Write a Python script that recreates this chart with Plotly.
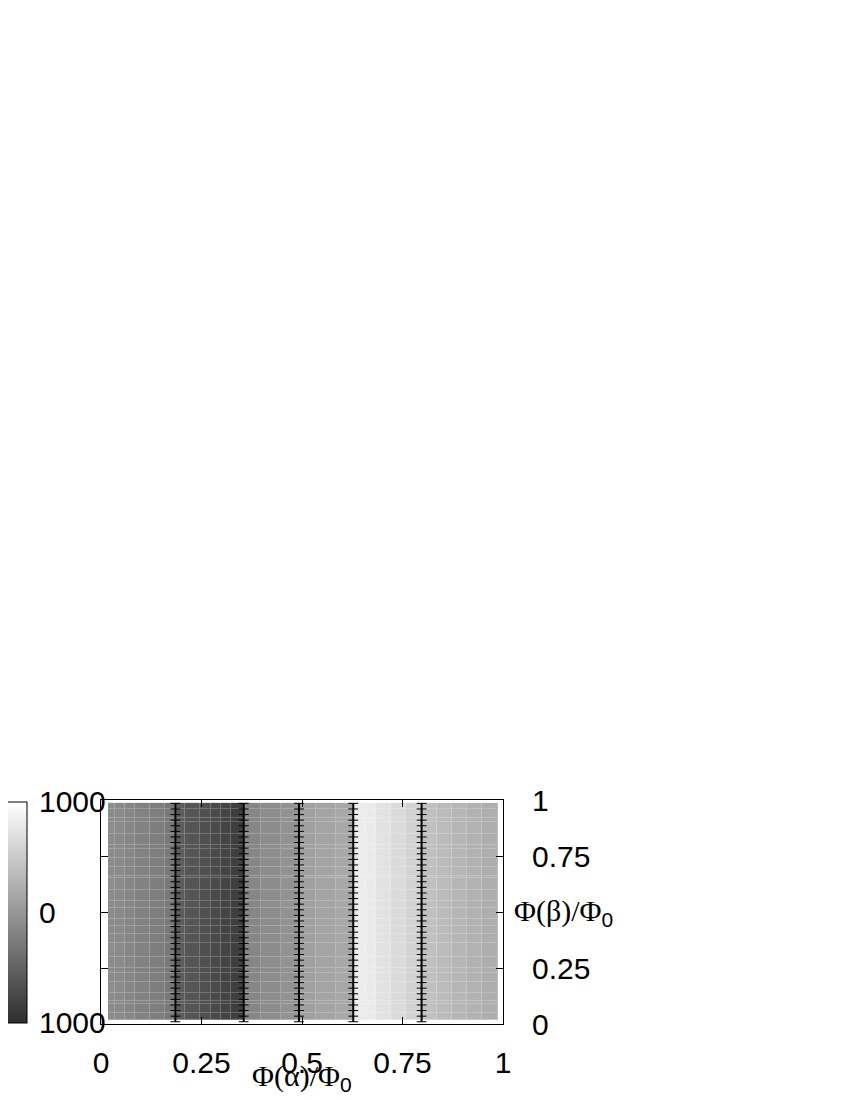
import plotly.graph_objects as go

# ---- data ----
# column edges along Phi(alpha)/Phi0 (irregular grid of the map)
x_edges = [0.0175, 0.035, 0.06, 0.085, 0.1225, 0.16, 0.185, 0.21, 0.2475, 0.2725,
           0.2975, 0.3225, 0.355, 0.3975, 0.4475, 0.4925, 0.535, 0.585, 0.6275,
           0.66, 0.685, 0.7225, 0.76, 0.7975, 0.835, 0.8725, 0.91, 0.9475, 0.9875]
# value of each column (colour scale -1000 .. 1000)
col_values = [-100, -120, -158, -196, -234, -292,
              -560, -627, -675, -732, -789, -847,
              -158, -100, -43,
              91, 129, 167,
              818, 799, 722, 646, 569,
              397, 349, 301, 263, 225]
# row edges along Phi(beta)/Phi0
y_edges = [0.018, 0.05, 0.09, 0.105, 0.14, 0.19, 0.23, 0.25, 0.3, 0.36, 0.4, 0.44,
           0.47, 0.52, 0.55, 0.6, 0.65, 0.66, 0.7, 0.74, 0.78, 0.8, 0.85, 0.9,
           0.92, 0.96, 0.987]
# vertical boundary lines (Phi(alpha)/Phi0 positions)
line_x = [0.185, 0.355, 0.4925, 0.6275, 0.7975]
line_y = [0.01, 0.035, 0.06, 0.085, 0.11, 0.135, 0.16, 0.185, 0.21, 0.235,
          0.26, 0.285, 0.31, 0.335, 0.36, 0.385, 0.41, 0.435, 0.46, 0.485,
          0.51, 0.535, 0.56, 0.585, 0.61, 0.635, 0.66, 0.685, 0.71, 0.735,
          0.76, 0.785, 0.81, 0.835, 0.86, 0.885, 0.91, 0.935, 0.96, 0.985]
tick_vals = [0, 0.25, 0.5, 0.75, 1]
x_tick_text = ["0", "0.25", "0.5", "0.75", "1"]
y_tick_text = ["0", "0.25", "", "0.75", "1"]
cbar_vals = [-999, 0, 999]
cbar_text = ["1000", "0", "1000"]

n_rows = len(y_edges) - 1
z = [list(col_values) for _ in range(n_rows)]

FONT = "Liberation Sans, Arial, sans-serif"
SERIF = "Liberation Serif, serif"
FS = 30

fig = go.Figure()

# lighter under-layer: shows through the gaps as the light grid texture
fig.add_trace(go.Heatmap(
    x=x_edges, y=y_edges, z=z, zmin=-1000, zmax=1000,
    colorscale=[[0, "#5c5c5c"], [1, "#ffffff"]],
    showscale=False, hoverinfo="skip"))

fig.add_trace(go.Heatmap(
    x=x_edges, y=y_edges, z=z, zmin=-1000, zmax=1000,
    colorscale=[[0, "#2e2e2e"], [1, "#ffffff"]],
    xgap=1, ygap=1,
    colorbar=dict(
        xref="paper", yref="paper",
        x=(5 - 101) / 402, xanchor="left",
        y=0.5, yanchor="middle",
        thickness=22, thicknessmode="pixels",
        len=221, lenmode="pixels",
        outlinecolor="black", outlinewidth=1,
        tickvals=cbar_vals, ticktext=cbar_text,
        ticks="outside", ticklen=6, tickcolor="rgba(0,0,0,0)",
        ticklabelposition="outside",
        tickfont=dict(family=FONT, size=FS, color="black"),
        xpad=0, ypad=0,
    )))

for lx in line_x:
    fig.add_trace(go.Scatter(
        x=[lx] * len(line_y), y=line_y, mode="lines+markers",
        line=dict(color="black", width=2),
        marker=dict(symbol="line-ew", size=7,
                    line=dict(color="black", width=1)),
        showlegend=False, hoverinfo="skip"))

fig.update_xaxes(
    range=[0, 1], tickvals=tick_vals, ticktext=x_tick_text,
    ticks="inside", ticklen=7, tickcolor="black",
    showline=True, linecolor="black", linewidth=1, mirror="ticks",
    showgrid=False, zeroline=False,
    tickfont=dict(family=FONT, size=FS, color="black"),
    ticklabelstandoff=12)
fig.update_yaxes(
    range=[0, 1], tickvals=tick_vals, ticktext=y_tick_text, side="right",
    ticks="inside", ticklen=7, tickcolor="black",
    showline=True, linecolor="black", linewidth=1, mirror="ticks",
    showgrid=False, zeroline=False,
    tickfont=dict(family=FONT, size=FS, color="black"),
    ticklabelstandoff=22)

fig.add_annotation(
    x=0.5, y=-0.24, xref="paper", yref="paper",
    text=f'<span style="font-family:{SERIF}">Φ(α)/Φ</span><sub>0</sub>',
    showarrow=False, xanchor="center", yanchor="middle",
    font=dict(family=FONT, size=FS, color="black"))
fig.add_annotation(
    x=1.022, y=0.5, xref="paper", yref="paper",
    text=f'<span style="font-family:{SERIF}">Φ(β)/Φ</span><sub>0</sub>',
    showarrow=False, xanchor="left", yanchor="middle",
    font=dict(family=FONT, size=FS, color="black"))

# page body adds an 8px offset, so the figure is 8px smaller with margins shifted
fig.update_layout(
    width=842, height=1092,
    margin=dict(l=93, r=347, t=792, b=76, autoexpand=False),
    paper_bgcolor="white", plot_bgcolor="white",
    showlegend=False)

fig.write_html("out.html")
